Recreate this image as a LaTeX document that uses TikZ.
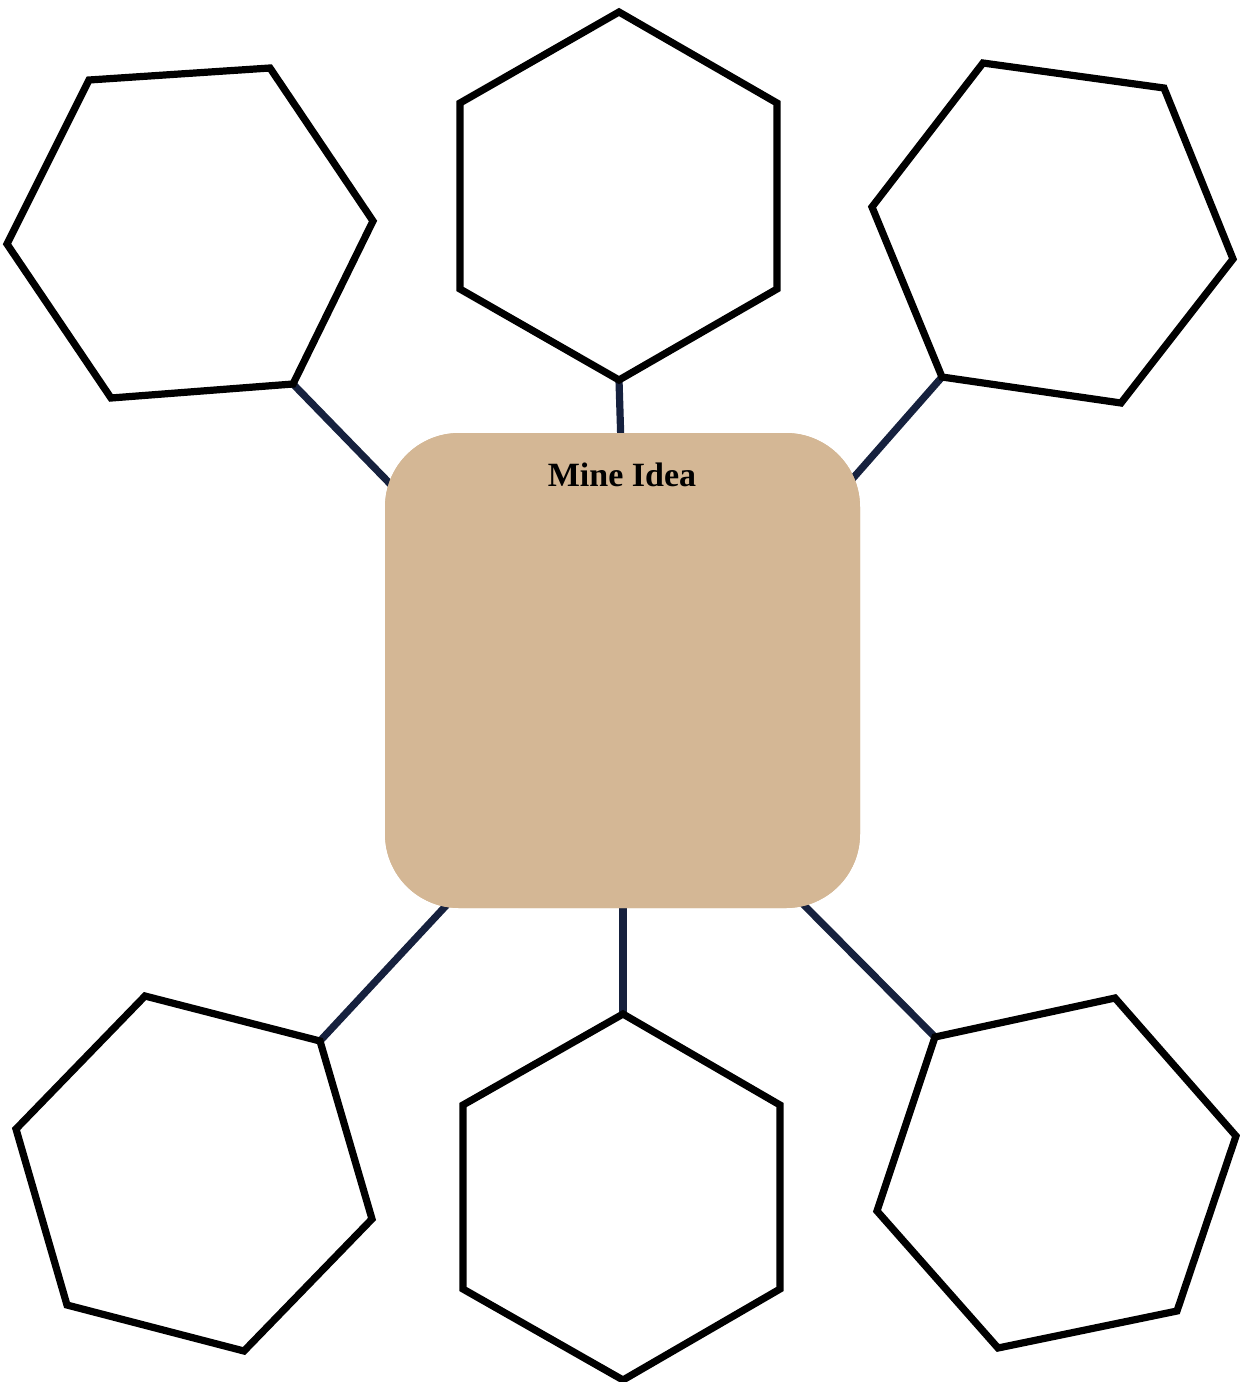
\documentclass[tikz,border=0pt]{standalone}
\usepackage{fontspec}
\setmainfont{Liberation Serif}
\usetikzlibrary{backgrounds}
\definecolor{tan}{HTML}{D4B795}
\definecolor{navy}{HTML}{16213E}
\begin{document}
\begin{tikzpicture}[x=0.5pt,y=-0.5pt,
  hexa/.style={draw=black,line width=3.6pt,line join=miter,fill=white},
  link/.style={draw=navy,line width=3.6pt},
  mainbox/.style={fill=tan,rounded corners=37pt,minimum width=237.5pt,minimum height=237.5pt,inner sep=0pt},
  title/.style={font=\fontsize{17}{20}\selectfont\bfseries}]
\useasboundingbox (0,0) rectangle (1239,1382);
% central box
\node[mainbox] (main) at (622.5,670.5) {};
\node[title] (t) at (622,475) {Mine Idea};
% hexagon attachment vertices
\coordinate (h1) at (293,384);
\coordinate (h2) at (619,380);
\coordinate (h3) at (942,377);
\coordinate (h4) at (320,1041);
\coordinate (h5) at (623,1014);
\coordinate (h6) at (935,1037);
% connector ends inside box
\coordinate (e1) at (400,494);
\coordinate (e2) at (621,445);
\coordinate (e3) at (840,493);
\coordinate (e4) at (455,896);
\coordinate (e5) at (623,895);
\coordinate (e6) at (793,894);
\begin{scope}[on background layer]
\foreach \i in {1,...,6}{\draw[link] (h\i) -- (e\i);}
\end{scope}
\node[mainbox] at (main) {};
\node[title] at (t) {Mine Idea};
% hexagons
\draw[hexa] (89,80) -- (270,68) -- (373,221) -- (h1) -- (111,398) -- (7,244) -- cycle;
\draw[hexa] (619,12) -- (777,103) -- (777,289) -- (h2) -- (460,289) -- (460,103) -- cycle;
\draw[hexa] (983,63) -- (1164,88) -- (1233,259) -- (1121,403) -- (h3) -- (872,207) -- cycle;
\draw[hexa] (145,996) -- (h4) -- (372,1219) -- (244,1351) -- (67,1305) -- (16,1129) -- cycle;
\draw[hexa] (h5) -- (780,1105) -- (780,1289) -- (623,1380) -- (463,1289) -- (463,1105) -- cycle;
\draw[hexa] (1115,998) -- (1236,1136) -- (1177,1311) -- (998,1348) -- (877,1211) -- (h6) -- cycle;
\end{tikzpicture}
\end{document}
